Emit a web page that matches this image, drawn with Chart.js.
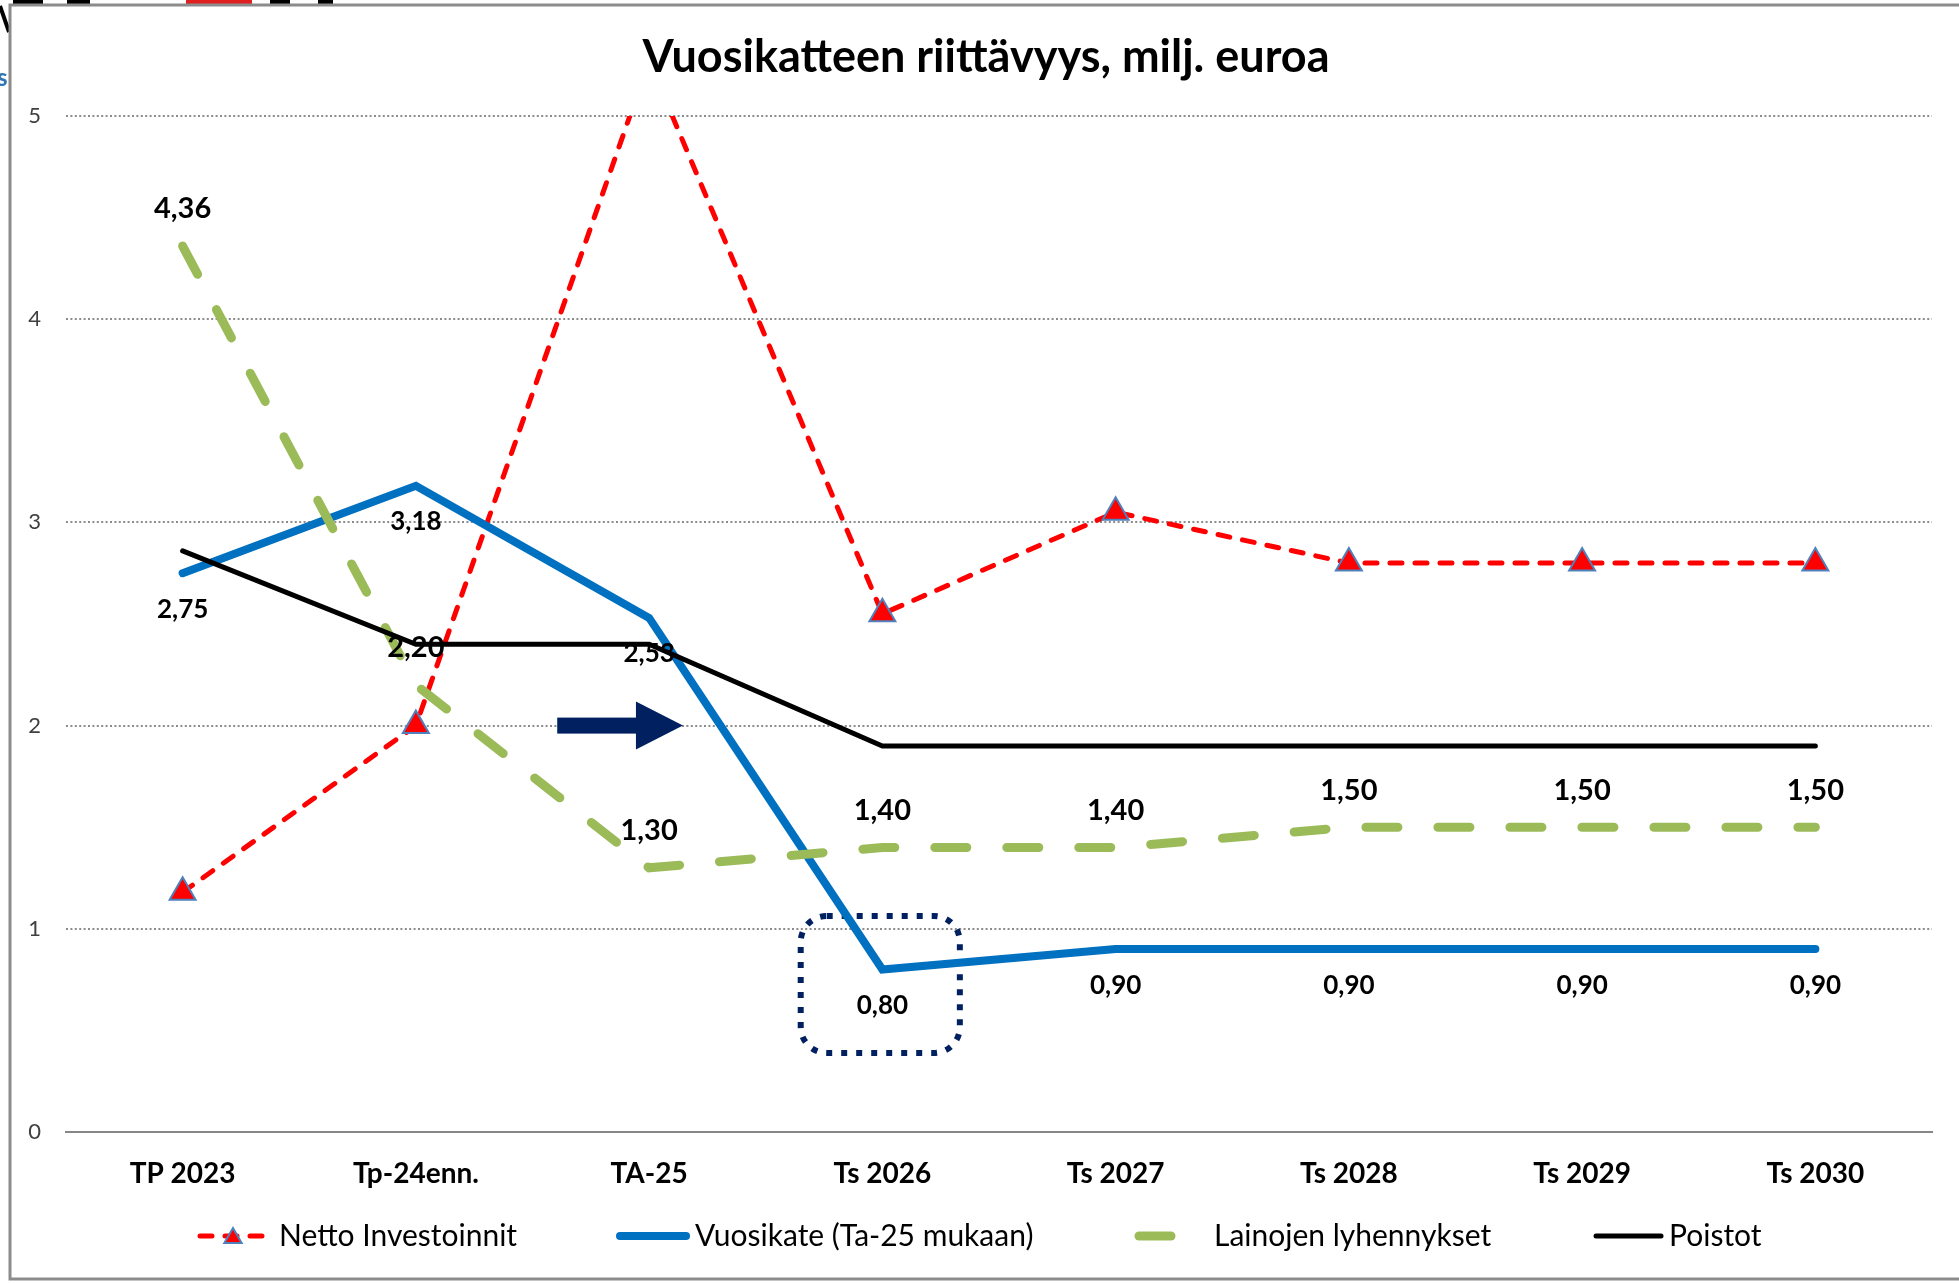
<!DOCTYPE html>
<html>
<head>
<meta charset="utf-8">
<script src="https://cdn.jsdelivr.net/npm/chart.js@4.4.1/dist/chart.umd.min.js"></script>
<style>
  html, body { margin: 0; padding: 0; background: #fff; overflow: hidden; }
  #wrap { position: relative; width: 1959px; height: 1283px; }
</style>
</head>
<body>
<div id="wrap"><canvas id="chart"></canvas></div>
<script>
const categories = ['TP 2023', 'Tp-24enn.', 'TA-25', 'Ts 2026', 'Ts 2027', 'Ts 2028', 'Ts 2029', 'Ts 2030'];
const nettoInvestoinnit = [1.18, 2.00, 5.27, 2.55, 3.05, 2.80, 2.80, 2.80];
const vuosikate = [2.75, 3.18, 2.53, 0.80, 0.90, 0.90, 0.90, 0.90];
const lainojenLyhennykset = [4.36, 2.20, 1.30, 1.40, 1.40, 1.50, 1.50, 1.50];
const poistot = [2.86, 2.40, 2.40, 1.90, 1.90, 1.90, 1.90, 1.90];
const yMin = 0;
const yMax = 5;
const yStep = 1;

const FONT = 'Lato, "Open Sans", sans-serif';
const navy = '#002060';
const fmt = v => v.toFixed(2).replace('.', ',');

// frame and the bits of the slide that peek out round it
const frame = {
    id: 'frame',
    beforeDraw(chart) {
        const ctx = chart.ctx;
        ctx.save();
        ctx.fillStyle = '#fff';
        ctx.fillRect(0, 0, chart.width, chart.height);
        ctx.fillStyle = '#000';
        [[13, 30], [67, 23], [270, 20], [318, 15]].forEach(([x, w]) => ctx.fillRect(x, 0, w, 4));
        ctx.fillStyle = '#e02020';
        ctx.fillRect(186, 0, 66, 4);
        ctx.strokeStyle = '#000';
        ctx.lineWidth = 4;
        ctx.beginPath();
        ctx.moveTo(0, 6);
        ctx.lineTo(9, 32);
        ctx.stroke();
        ctx.fillStyle = '#2e75b6';
        ctx.font = 'bold 24px ' + FONT;
        ctx.textBaseline = 'alphabetic';
        ctx.fillText('s', -3, 86);
        ctx.strokeStyle = '#8c8c8c';
        ctx.lineWidth = 3;
        ctx.strokeRect(10, 5, chart.width + 20, 1274);
        ctx.restore();
    }
};

const title = {
    id: 'titleText',
    afterDraw(chart) {
        const ctx = chart.ctx;
        ctx.save();
        ctx.fillStyle = '#000';
        ctx.font = 'bold 45px ' + FONT;
        ctx.textAlign = 'center';
        ctx.textBaseline = 'middle';
        ctx.fillText('Vuosikatteen riittävyys, milj. euroa', 986, 57);
        ctx.restore();
    }
};

const pointLabels = {
    id: 'pointLabels',
    afterDatasetsDraw(chart) {
        const ctx = chart.ctx;
        ctx.save();
        ctx.textAlign = 'center';
        ctx.textBaseline = 'middle';
        ctx.fillStyle = '#000';
        chart.data.datasets.forEach((ds, i) => {
            if (!ds.labelOffset) {
                return;
            }
            ctx.font = ds.labelFont;
            chart.getDatasetMeta(i).data.forEach((pt, j) => {
                ctx.fillText(fmt(ds.data[j]), pt.x, pt.y + ds.labelOffset);
            });
        });
        ctx.restore();
    }
};

const marks = {
    id: 'marks',
    beforeDatasetsDraw(chart) {
        const {ctx, scales: {x, y}} = chart;
        ctx.save();
        // dotted rounded box round the 2026 low
        const bx0 = x.getPixelForValue(2.637), bx1 = x.getPixelForValue(3.345);
        const by0 = y.getPixelForValue(1.078), by1 = y.getPixelForValue(0.374);
        ctx.strokeStyle = navy;
        ctx.lineWidth = 6;
        ctx.setLineDash([6, 9]);
        ctx.beginPath();
        ctx.roundRect(bx0 + 3, by0 + 3, bx1 - bx0 - 6, by1 - by0 - 6, 26);
        ctx.stroke();
        ctx.setLineDash([]);
        // arrow
        const ay = y.getPixelForValue(2);
        const ax0 = x.getPixelForValue(1.606), ax1 = x.getPixelForValue(2.145);
        ctx.fillStyle = navy;
        ctx.fillRect(ax0, ay - 8, ax1 - ax0 - 46, 16);
        ctx.beginPath();
        ctx.moveTo(ax1 - 47, ay - 24);
        ctx.lineTo(ax1, ay);
        ctx.lineTo(ax1 - 47, ay + 24);
        ctx.closePath();
        ctx.fill();
        ctx.restore();
    }
};

const legendItems = [
    {ds: 0, x0: 200, x1: 266, tx: 279, text: 'Netto Investoinnit'},
    {ds: 1, x0: 620, x1: 686, tx: 695, text: 'Vuosikate (Ta-25 mukaan)'},
    {ds: 2, x0: 1139, x1: 1171, tx: 1214, text: 'Lainojen lyhennykset'},
    {ds: 3, x0: 1596, x1: 1661, tx: 1669, text: 'Poistot'}
];

const legend = {
    id: 'customLegend',
    afterDraw(chart) {
        const ctx = chart.ctx;
        const ly = 1236;
        ctx.save();
        legendItems.forEach(item => {
            const ds = chart.data.datasets[item.ds];
            ctx.strokeStyle = ds.borderColor;
            ctx.lineWidth = ds.borderWidth;
            ctx.lineCap = 'round';
            ctx.setLineDash(item.ds === 2 ? [] : (ds.borderDash || []));
            ctx.beginPath();
            ctx.moveTo(item.x0, ly);
            ctx.lineTo(item.x1, ly);
            ctx.stroke();
            ctx.setLineDash([]);
            if (ds.pointRadius) {
                ctx.fillStyle = ds.pointBackgroundColor;
                ctx.strokeStyle = ds.pointBorderColor;
                ctx.lineWidth = 2;
                Chart.helpers.drawPoint(ctx, {pointStyle: 'triangle', radius: 10, borderWidth: 2, rotation: 0},
                    (item.x0 + item.x1) / 2, ly + 2);
            }
            ctx.fillStyle = '#000';
            ctx.font = '30px ' + FONT;
            ctx.textAlign = 'left';
            ctx.textBaseline = 'middle';
            ctx.fillText(item.text, item.tx, ly);
        });
        ctx.restore();
    }
};

new Chart(document.getElementById('chart'), {
    type: 'line',
    data: {
        labels: categories,
        datasets: [{
            label: 'Netto Investoinnit',
            data: nettoInvestoinnit,
            borderColor: '#ff0000',
            borderWidth: 5,
            borderDash: [12, 13],
            borderCapStyle: 'round',
            pointStyle: 'triangle',
            pointRadius: 15,
            pointHoverRadius: 15,
            pointBackgroundColor: '#ff0000',
            pointBorderColor: '#4f81bd',
            pointBorderWidth: 2,
            order: 4
        }, {
            label: 'Vuosikate (Ta-25 mukaan)',
            data: vuosikate,
            borderColor: '#0070c0',
            borderWidth: 8,
            borderCapStyle: 'round',
            pointRadius: 0,
            labelOffset: 36,
            labelFont: 'bold 26px ' + FONT,
            order: 3
        }, {
            label: 'Lainojen lyhennykset',
            data: lainojenLyhennykset,
            borderColor: '#9bbb59',
            borderWidth: 9,
            borderDash: [32, 40],
            borderCapStyle: 'round',
            pointRadius: 0,
            labelOffset: -37,
            labelFont: 'bold 29px ' + FONT,
            order: 2
        }, {
            label: 'Poistot',
            data: poistot,
            borderColor: '#000000',
            borderWidth: 5,
            borderCapStyle: 'round',
            pointRadius: 0,
            order: 1
        }]
    },
    options: {
        responsive: true,
        maintainAspectRatio: false,
        animation: false,
        layout: {padding: {top: 116, right: 27, bottom: 0, left: 0}},
        elements: {line: {tension: 0, fill: false}},
        plugins: {
            legend: {display: false},
            title: {display: false},
            tooltip: {enabled: false}
        },
        scales: {
            x: {
                offset: true,
                grid: {display: false, offset: true},
                border: {display: true, color: '#868686', width: 2},
                ticks: {
                    autoSkip: false,
                    maxRotation: 0,
                    padding: 17,
                    color: '#000',
                    font: {family: FONT, size: 28, weight: 'bold'}
                },
                afterFit: scale => { scale.height = 151; }
            },
            y: {
                min: yMin,
                max: yMax,
                grid: {
                    drawTicks: false,
                    color: ctx => ctx.tick.value === 0 ? 'rgba(0,0,0,0)' : '#8c8c8c',
                    lineWidth: 2
                },
                border: {display: false, dash: [2, 2.4]},
                ticks: {
                    stepSize: yStep,
                    padding: 25,
                    color: '#404040',
                    font: {family: FONT, size: 22}
                },
                afterFit: scale => { scale.width = 66; }
            }
        }
    },
    plugins: [frame, marks, pointLabels, legend, title]
});
</script>
</body>
</html>
